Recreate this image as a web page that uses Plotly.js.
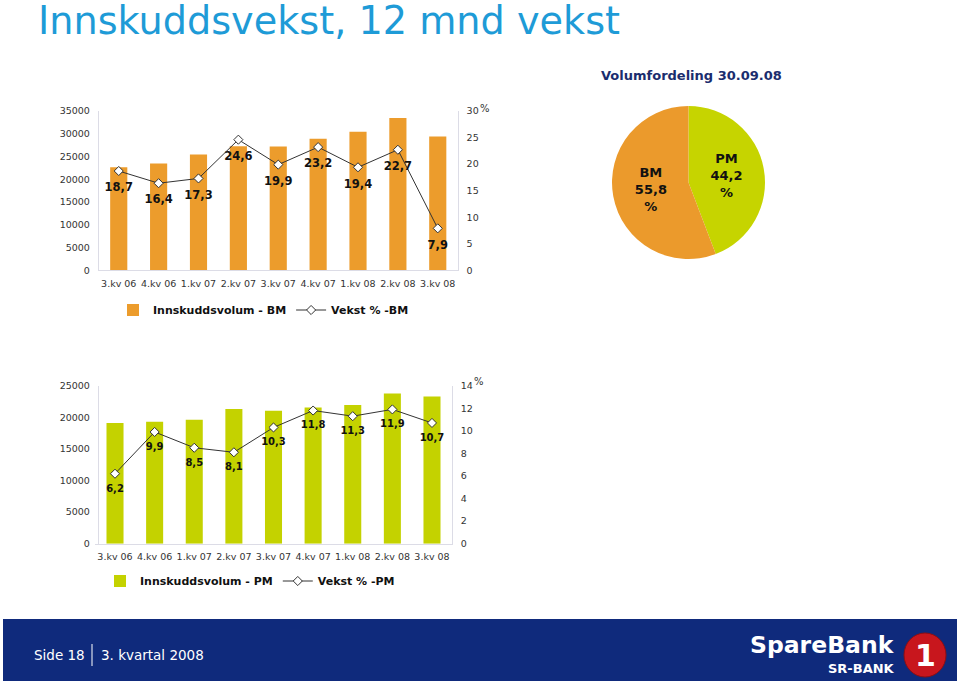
<!DOCTYPE html>
<html>
<head>
<meta charset="utf-8">
<script src="https://cdn.plot.ly/plotly-3.0.1.min.js"></script>
<style>
  html, body { margin: 0; padding: 0; background: #ffffff; }
  #chart { width: 959px; height: 684px; }
</style>
</head>
<body>
<div id="chart"></div>
<script>
// ---- Data ----
var quarters = ['3.kv 06', '4.kv 06', '1.kv 07', '2.kv 07', '3.kv 07', '4.kv 07', '1.kv 08', '2.kv 08', '3.kv 08'];
var bmVolume = [22650, 23450, 25450, 27250, 27200, 28900, 30450, 33450, 29400];
var bmGrowth = [18.7, 16.4, 17.3, 24.6, 19.9, 23.2, 19.4, 22.7, 7.9];
var pmVolume = [19100, 19300, 19600, 21300, 21050, 21550, 21950, 23750, 23300];
var pmGrowth = [6.2, 9.9, 8.5, 8.1, 10.3, 11.8, 11.3, 11.9, 10.7];
var pieLabels = ['PM', 'BM'];
var pieShares = [44.2, 55.8];

function comma(v) { return v.toFixed(1).replace('.', ','); }

var W = 959, H = 684;
function px(x) { return x / W; }
function py(y) { return (H - y) / H; }

var FONT = 'DejaVu Sans, Verdana, sans-serif';
var tickFont = { family: FONT, size: 9.5, color: '#333333' };
var axisLine = '#dcdce6';
var catRange = [-0.5, quarters.length - 0.5];

function lineTrace(y, xa, ya, name, lg) {
  return {
    type: 'scatter', mode: 'lines+markers', x: quarters, y: y, xaxis: xa, yaxis: ya,
    name: name, legend: lg,
    line: { color: '#333333', width: 1 },
    marker: { symbol: 'diamond', size: 7, color: '#ffffff', line: { color: '#333333', width: 1 } },
    cliponaxis: false, hoverinfo: 'skip'
  };
}
function labelTrace(y, xa, ya, fsize, msize) {
  return {
    type: 'scatter', mode: 'markers+text', x: quarters, y: y, xaxis: xa, yaxis: ya,
    text: y.map(comma), textposition: 'bottom center',
    textfont: { family: FONT, size: fsize, color: '#111111', weight: 'bold' },
    marker: { size: msize, opacity: 0 },
    showlegend: false, cliponaxis: false, hoverinfo: 'skip'
  };
}

var traces = [
  {
    type: 'bar', x: quarters, y: bmVolume, xaxis: 'x', yaxis: 'y',
    name: 'Innskuddsvolum - BM', legend: 'legend',
    marker: { color: '#ec9c2c', line: { width: 0 } },
    hoverinfo: 'skip'
  },
  lineTrace(bmGrowth, 'x', 'y2', 'Vekst % -BM', 'legend'),
  labelTrace(bmGrowth, 'x', 'y2', 11.5, 17),
  {
    type: 'bar', x: quarters, y: pmVolume, xaxis: 'x2', yaxis: 'y3',
    name: 'Innskuddsvolum - PM', legend: 'legend2',
    marker: { color: '#c4d200', line: { width: 0 } },
    hoverinfo: 'skip'
  },
  lineTrace(pmGrowth, 'x2', 'y4', 'Vekst % -PM', 'legend2'),
  labelTrace(pmGrowth, 'x2', 'y4', 10, 15),
  {
    type: 'pie', labels: pieLabels, values: pieShares, sort: false, direction: 'counterclockwise',
    rotation: 0,
    text: pieLabels.map(function (l, i) { return l + '<br>' + comma(pieShares[i]) + '<br>%'; }),
    textinfo: 'text', textposition: 'inside', insidetextorientation: 'horizontal',
    textfont: { family: FONT, size: 13, color: '#111111', weight: 'bold' },
    marker: { colors: ['#c6d400', '#eb9a2c'], line: { width: 0 } },
    domain: { x: [px(612), px(765)], y: [py(259), py(106)] },
    showlegend: false, hoverinfo: 'skip'
  }
];

var layout = {
  width: W, height: H,
  margin: { l: 0, r: 0, t: 0, b: 0 },
  paper_bgcolor: '#ffffff', plot_bgcolor: 'rgba(0,0,0,0)',
  bargap: 0.57,
  xaxis: {
    domain: [px(98.8), px(457.7)], anchor: 'y', type: 'category', range: catRange,
    showline: true, linecolor: axisLine, linewidth: 1, ticks: '', showgrid: false,
    tickfont: tickFont, ticklabelstandoff: 4
  },
  yaxis: {
    domain: [py(270.3), py(111)], range: [0, 35000], dtick: 5000, tickformat: 'd',
    showline: true, linecolor: axisLine, showgrid: false, zeroline: false, ticks: '',
    tickfont: tickFont, ticklabelstandoff: 6
  },
  yaxis2: {
    overlaying: 'y', side: 'right', anchor: 'x', range: [0, 30], dtick: 5,
    showline: true, linecolor: axisLine, showgrid: false, zeroline: false, ticks: '',
    tickfont: tickFont, ticklabelstandoff: 6
  },
  xaxis2: {
    domain: [px(95.2), px(451.8)], anchor: 'y3', type: 'category', range: catRange,
    showline: true, linecolor: axisLine, linewidth: 1, ticks: '', showgrid: false,
    tickfont: tickFont, ticklabelstandoff: 4
  },
  yaxis3: {
    domain: [py(543.7), py(385.7)], range: [0, 25000], dtick: 5000, tickformat: 'd',
    showline: true, linecolor: axisLine, showgrid: false, zeroline: false, ticks: '',
    tickfont: tickFont, ticklabelstandoff: 6
  },
  yaxis4: {
    overlaying: 'y3', side: 'right', anchor: 'x2', range: [0, 14], dtick: 2,
    showline: true, linecolor: axisLine, showgrid: false, zeroline: false, ticks: '',
    tickfont: tickFont, ticklabelstandoff: 6
  },
  legend: {
    orientation: 'h', x: px(113), y: py(310), xanchor: 'left', yanchor: 'middle',
    font: { family: FONT, size: 11, color: '#111111', weight: 'bold' },
    itemgap: 6, bgcolor: 'rgba(0,0,0,0)'
  },
  legend2: {
    orientation: 'h', x: px(100), y: py(581), xanchor: 'left', yanchor: 'middle',
    font: { family: FONT, size: 11, color: '#111111', weight: 'bold' },
    itemgap: 0, bgcolor: 'rgba(0,0,0,0)'
  },
  shapes: [
    { type: 'rect', xref: 'paper', yref: 'paper', x0: px(3), x1: px(957), y0: py(681), y1: py(619),
      fillcolor: '#0f2a7c', line: { width: 0 }, layer: 'below' },
    { type: 'line', xref: 'paper', yref: 'paper', x0: px(92), x1: px(92), y0: py(666), y1: py(644),
      line: { color: '#ffffff', width: 1 } },
    { type: 'circle', xref: 'paper', yref: 'paper', x0: px(904), x1: px(946), y0: py(677), y1: py(633),
      fillcolor: '#c8161d', line: { color: '#8e0e12', width: 1 } }
  ],
  annotations: [
    { text: 'Innskuddsvekst, 12 mnd vekst', xref: 'paper', yref: 'paper', x: px(36), y: py(21),
      xanchor: 'left', yanchor: 'middle', showarrow: false,
      font: { family: FONT, size: 38.2, color: '#1e9bd7' } },
    { text: 'Volumfordeling 30.09.08', xref: 'paper', yref: 'paper', x: px(599), y: py(75),
      xanchor: 'left', yanchor: 'middle', showarrow: false,
      font: { family: FONT, size: 13, color: '#1b2d6e', weight: 'bold' } },
    { text: '%', xref: 'paper', yref: 'paper', x: px(478), y: py(108),
      xanchor: 'left', yanchor: 'middle', showarrow: false,
      font: { family: FONT, size: 10, color: '#333333' } },
    { text: '%', xref: 'paper', yref: 'paper', x: px(472), y: py(381),
      xanchor: 'left', yanchor: 'middle', showarrow: false,
      font: { family: FONT, size: 10, color: '#333333' } },
    { text: 'Side 18', xref: 'paper', yref: 'paper', x: px(32), y: py(655),
      xanchor: 'left', yanchor: 'middle', showarrow: false,
      font: { family: FONT, size: 13.5, color: '#ffffff' } },
    { text: '3. kvartal 2008', xref: 'paper', yref: 'paper', x: px(99), y: py(655),
      xanchor: 'left', yanchor: 'middle', showarrow: false,
      font: { family: FONT, size: 13.5, color: '#ffffff' } },
    { text: 'SpareBank', xref: 'paper', yref: 'paper', x: px(897), y: py(645),
      xanchor: 'right', yanchor: 'middle', showarrow: false,
      font: { family: FONT, size: 23.5, color: '#ffffff', weight: 'bold' } },
    { text: 'SR-BANK', xref: 'paper', yref: 'paper', x: px(897), y: py(668),
      xanchor: 'right', yanchor: 'middle', showarrow: false,
      font: { family: FONT, size: 13, color: '#ffffff', weight: 'bold' } },
    { text: '1', xref: 'paper', yref: 'paper', x: px(925), y: py(655),
      xanchor: 'center', yanchor: 'middle', showarrow: false,
      font: { family: FONT, size: 30, color: '#ffffff', weight: 'bold' } }
  ]
};

Plotly.newPlot('chart', traces, layout, { displayModeBar: false, staticPlot: true });
</script>
</body>
</html>
